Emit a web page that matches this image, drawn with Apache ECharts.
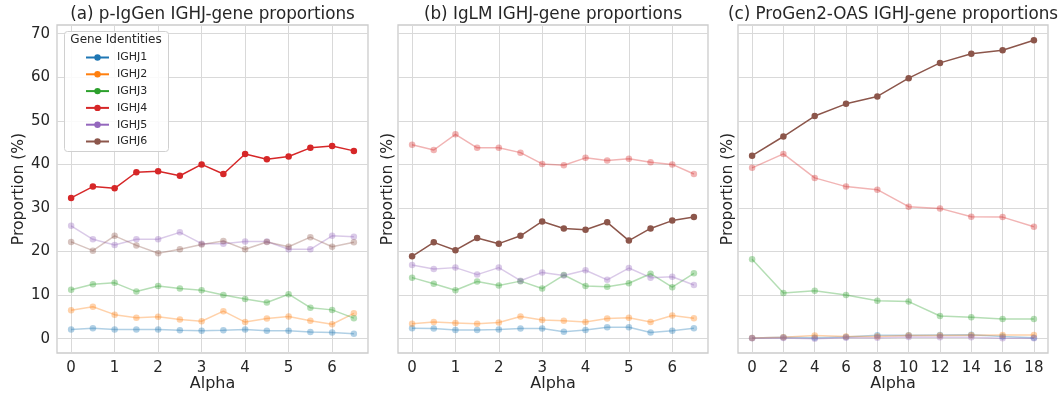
<!DOCTYPE html>
<html>
<head>
<meta charset="utf-8">
<script src="https://cdn.jsdelivr.net/npm/echarts@6/dist/echarts.min.js"></script>
<style>
html,body{margin:0;padding:0;background:#fff;}
#chart{width:1061px;height:393px;}
</style>
</head>
<body>
<div id="chart"></div>
<script>
// ---- Data ----
const genes = ['IGHJ1', 'IGHJ2', 'IGHJ3', 'IGHJ4', 'IGHJ5', 'IGHJ6'];
const alphaAB = [0, 0.5, 1, 1.5, 2, 2.5, 3, 3.5, 4, 4.5, 5, 5.5, 6, 6.5];
const alphaC = [0, 2, 4, 6, 8, 10, 12, 14, 16, 18];
const xTicksAB = [0, 1, 2, 3, 4, 5, 6];
const xTicksC = [0, 2, 4, 6, 8, 10, 12, 14, 16, 18];
const yTicks = [0, 10, 20, 30, 40, 50, 60, 70];
const panelTitles = ['(a) p-IgGen IGHJ-gene proportions', '(b) IgLM IGHJ-gene proportions', '(c) ProGen2-OAS IGHJ-gene proportions'];
const highlighted = ['IGHJ4', 'IGHJ6', 'IGHJ6'];

// (a) p-IgGen
const a_IGHJ1 = [2.1, 2.4, 2.1, 2.1, 2.1, 1.9, 1.8, 1.9, 2.1, 1.8, 1.8, 1.5, 1.4, 1.1];
const a_IGHJ2 = [6.5, 7.3, 5.5, 4.8, 5.0, 4.4, 4.0, 6.3, 3.8, 4.6, 5.1, 4.1, 3.3, 5.8];
const a_IGHJ3 = [11.2, 12.5, 12.8, 10.8, 12.1, 11.5, 11.1, 10.0, 9.1, 8.3, 10.2, 7.1, 6.6, 4.7];
const a_IGHJ4 = [32.3, 34.9, 34.5, 38.2, 38.4, 37.4, 40.0, 37.8, 42.4, 41.2, 41.8, 43.8, 44.2, 43.1];
const a_IGHJ5 = [25.9, 22.8, 21.5, 22.8, 22.8, 24.4, 21.8, 21.8, 22.3, 22.3, 20.5, 20.5, 23.6, 23.4];
const a_IGHJ6 = [22.2, 20.2, 23.6, 21.4, 19.6, 20.5, 21.6, 22.4, 20.5, 22.2, 21.1, 23.3, 21.1, 22.1];

// (b) IgLM
const b_IGHJ1 = [2.4, 2.3, 2.0, 2.0, 2.1, 2.3, 2.3, 1.6, 2.0, 2.6, 2.6, 1.4, 1.8, 2.4];
const b_IGHJ2 = [3.4, 3.8, 3.6, 3.4, 3.7, 5.1, 4.3, 4.1, 3.8, 4.6, 4.8, 3.8, 5.3, 4.7];
const b_IGHJ3 = [14.0, 12.6, 11.1, 13.1, 12.2, 13.2, 11.5, 14.6, 12.1, 11.9, 12.7, 14.9, 11.8, 15.0];
const b_IGHJ4 = [44.5, 43.3, 46.9, 43.8, 43.8, 42.7, 40.1, 39.8, 41.5, 40.9, 41.3, 40.5, 40.0, 37.8];
const b_IGHJ5 = [16.9, 16.0, 16.3, 14.7, 16.3, 13.3, 15.2, 14.5, 15.7, 13.5, 16.2, 14.0, 14.2, 12.3];
const b_IGHJ6 = [18.9, 22.1, 20.3, 23.1, 21.8, 23.6, 26.9, 25.3, 25.0, 26.7, 22.5, 25.3, 27.1, 27.9];

// (c) ProGen2-OAS
const c_IGHJ1 = [0.15, 0.3, 0.2, 0.4, 0.8, 0.8, 0.85, 0.9, 0.5, 0.2];
const c_IGHJ2 = [0.15, 0.3, 0.7, 0.5, 0.5, 0.7, 0.7, 0.8, 0.85, 0.85];
const c_IGHJ3 = [18.2, 10.5, 11.0, 10.0, 8.7, 8.5, 5.2, 4.9, 4.5, 4.5];
const c_IGHJ4 = [39.2, 42.4, 36.9, 34.9, 34.2, 30.3, 29.9, 28.0, 27.9, 25.7];
const c_IGHJ5 = [0.1, 0.15, 0.0, 0.2, 0.2, 0.4, 0.3, 0.3, 0.1, 0.1];
const c_IGHJ6 = [42.0, 46.4, 51.1, 53.9, 55.6, 59.8, 63.3, 65.4, 66.2, 68.5];

const panelData = [
  [a_IGHJ1, a_IGHJ2, a_IGHJ3, a_IGHJ4, a_IGHJ5, a_IGHJ6],
  [b_IGHJ1, b_IGHJ2, b_IGHJ3, b_IGHJ4, b_IGHJ5, b_IGHJ6],
  [c_IGHJ1, c_IGHJ2, c_IGHJ3, c_IGHJ4, c_IGHJ5, c_IGHJ6]
];
const panelX = [alphaAB, alphaAB, alphaC];

// ---- Styling / layout ----
const colors = ['#1f77b4', '#ff7f0e', '#2ca02c', '#d62728', '#9467bd', '#8c564b'];
const txt = '#262626';
const font = 'DejaVu Sans';
const grids = [
  {left: 57, top: 25, width: 311, height: 328},
  {left: 398, top: 25, width: 310, height: 328},
  {left: 738, top: 25, width: 310, height: 328}
];
const xRanges = [[-0.325, 6.825], [-0.325, 6.825], [-0.9, 18.9]];
const xTickSets = [xTicksAB, xTicksAB, xTicksC];

const option = {
  animation: false,
  backgroundColor: '#ffffff',
  textStyle: {fontFamily: font},
  title: panelTitles.map((t, i) => ({
    text: t,
    left: grids[i].left + grids[i].width / 2,
    top: 6,
    textAlign: 'center',
    padding: 0,
    textStyle: {fontFamily: font, fontSize: 16.8, fontWeight: 'normal', color: txt}
  })),
  grid: grids.map(g => Object.assign({show: true, outerBoundsMode: 'none', containLabel: false, borderColor: '#cccccc', borderWidth: 1.3, backgroundColor: 'transparent'}, g)),
  xAxis: grids.map((g, i) => ({
    type: 'value',
    gridIndex: i,
    min: xRanges[i][0],
    max: xRanges[i][1],
    name: 'Alpha',
    nameLocation: 'middle',
    nameGap: 23,
    nameMoveOverlap: false,
    nameTextStyle: {fontFamily: font, fontSize: 16, color: txt},
    axisLine: {show: false},
    axisTick: {show: false, customValues: xTickSets[i]},
    axisLabel: {customValues: xTickSets[i], fontFamily: font, fontSize: 15, color: txt, margin: 8},
    splitLine: {show: true, lineStyle: {color: '#d9d9d9', width: 1}}
  })),
  yAxis: grids.map((g, i) => ({
    type: 'value',
    gridIndex: i,
    min: -3.3,
    max: 72,
    name: 'Proportion (%)',
    nameLocation: 'middle',
    nameGap: i === 0 ? 30 : 2,
    nameMoveOverlap: false,
    nameTextStyle: {fontFamily: font, fontSize: 15.6, color: txt},
    axisLine: {show: false},
    axisTick: {show: false, customValues: yTicks},
    axisLabel: {show: i === 0, customValues: yTicks, fontFamily: font, fontSize: 15, color: txt, margin: 7},
    splitLine: {show: true, lineStyle: {color: '#d9d9d9', width: 1}}
  })),
  legend: {
    orient: 'vertical',
    left: 85,
    top: 52,
    padding: 0,
    itemWidth: 23,
    itemHeight: 8,
    itemGap: 5.8,
    data: genes,
    textStyle: {fontFamily: font, fontSize: 11, color: txt, padding: [0, 0, 0, 3]},
    itemStyle: {opacity: 1},
    lineStyle: {opacity: 1}
  },
  graphic: [
    {type: 'rect', z: 3, shape: {x: 64.5, y: 31.5, width: 104, height: 120, r: 3},
     style: {fill: 'rgba(255,255,255,0.85)', stroke: '#d0d0d0', lineWidth: 1}},
    {type: 'text', z: 5, x: 116, y: 40, style: {text: 'Gene Identities', font: '12px "DejaVu Sans"', fill: txt, textAlign: 'center', textVerticalAlign: 'middle'}}
  ],
  series: []
};

panelData.forEach((arrs, p) => {
  arrs.forEach((vals, gi) => {
    const isHi = genes[gi] === highlighted[p];
    const op = isHi ? 1 : 0.35;
    option.series.push({
      type: 'line',
      name: genes[gi],
      xAxisIndex: p,
      yAxisIndex: p,
      data: panelX[p].map((x, k) => [x, vals[k]]),
      symbol: 'circle',
      symbolSize: 6.5,
      showSymbol: true,
      z: isHi ? 2.5 : 2,
      color: colors[gi],
      lineStyle: {width: 1.5, opacity: op},
      itemStyle: {opacity: op},
      emphasis: {disabled: true}
    });
  });
});

const chart = echarts.init(document.getElementById('chart'), null, {renderer: 'canvas'});
chart.setOption(option);
</script>
</body>
</html>
